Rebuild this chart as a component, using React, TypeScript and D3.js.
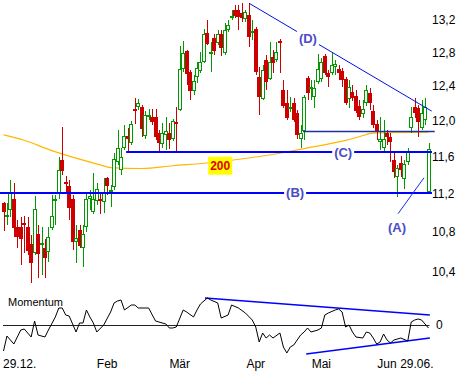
import React from 'react';
import * as d3 from 'd3';

// daily candles, 29.12. to 29.06.
const opens = [
  11.10, 10.96, 11.03, 11.14, 10.85, 10.85, 10.89, 10.85, 10.68, 10.59,
  10.78, 10.68, 10.64, 10.60, 10.84, 11.12, 11.21, 11.56, 11.32, 11.28,
  11.14, 10.70, 10.82, 10.64, 10.85, 11.14, 11.01, 11.12, 11.14, 11.11,
  11.37, 11.22, 11.27, 11.54, 11.45, 11.70, 11.83, 11.75, 12.13, 12.16,
  12.16, 11.83, 12.04, 12.04, 12.04, 11.86, 11.74, 11.84, 11.86, 11.79,
  11.99, 12.12, 12.60, 12.82, 12.57, 12.34, 12.51, 12.58, 12.69, 13.04,
  12.78, 12.98, 12.92, 13.03, 12.79, 13.08, 13.22, 13.33, 13.33, 13.29,
  13.21, 13.26, 13.04, 13.09, 12.51, 12.25, 12.71, 12.48, 12.75, 12.71,
  12.94, 12.35, 12.20, 12.15, 12.20, 12.09, 11.80, 11.88, 12.50, 12.38,
  12.27, 12.45, 12.48, 12.76, 12.55, 12.55, 12.63, 12.60, 12.58, 12.48,
  12.25, 12.33, 12.28, 12.17, 12.08, 12.20, 12.32, 12.11, 11.96, 11.76,
  11.70, 11.86, 11.82, 11.56, 11.38, 11.53, 11.36, 11.54, 11.92, 12.16,
  12.15, 11.92, 12.01, 11.22,
];
const highs = [
  11.11, 11.10, 11.35, 11.31, 10.92, 10.96, 10.97, 10.96, 10.77, 11.18,
  10.87, 10.85, 10.73, 10.85, 11.19, 11.19, 11.59, 11.93, 11.39, 11.35,
  11.19, 10.87, 10.87, 10.87, 11.21, 11.24, 11.42, 11.31, 11.21, 11.37,
  11.38, 11.29, 11.64, 11.90, 11.70, 11.95, 11.92, 12.00, 12.26, 12.25,
  12.18, 12.11, 12.13, 12.13, 12.13, 11.90, 11.97, 12.04, 11.97, 12.02,
  12.16, 12.88, 12.94, 12.83, 12.59, 12.53, 12.69, 12.81, 13.09, 13.20,
  12.93, 13.03, 13.08, 13.08, 13.16, 13.20, 13.33, 13.39, 13.39, 13.41,
  13.33, 13.41, 13.20, 13.11, 12.63, 12.65, 12.77, 12.93, 12.83, 12.93,
  12.97, 12.47, 12.35, 12.27, 12.26, 12.12, 11.95, 12.30, 12.52, 12.47,
  12.47, 12.78, 12.73, 12.78, 12.59, 12.81, 12.71, 12.65, 12.61, 12.51,
  12.47, 12.41, 12.35, 12.24, 12.24, 12.41, 12.38, 12.18, 12.01, 12.04,
  12.01, 11.90, 11.86, 11.64, 11.51, 11.61, 11.56, 11.69, 12.16, 12.26,
  12.18, 12.24, 12.26, 11.75,
];
const lows = [
  10.81, 10.87, 10.96, 10.75, 10.64, 10.47, 10.59, 10.57, 10.29, 10.57,
  10.34, 10.37, 10.34, 10.50, 10.82, 10.87, 11.14, 11.40, 11.21, 10.92,
  10.62, 10.49, 10.64, 10.45, 10.80, 11.03, 10.99, 11.08, 10.99, 11.00,
  11.19, 11.06, 11.24, 11.51, 11.40, 11.67, 11.64, 11.73, 11.96, 12.12,
  11.82, 11.80, 12.01, 11.95, 11.78, 11.65, 11.70, 11.67, 11.68, 11.77,
  11.64, 12.11, 12.57, 12.41, 12.24, 12.30, 12.44, 12.55, 12.67, 12.89,
  12.57, 12.77, 12.89, 12.76, 12.77, 13.05, 13.20, 13.22, 13.08, 13.18,
  13.18, 12.87, 12.95, 12.53, 12.07, 12.24, 12.35, 12.47, 12.55, 12.69,
  12.55, 12.15, 12.01, 12.10, 11.99, 11.80, 11.70, 11.78, 12.24, 12.24,
  12.15, 12.42, 12.45, 12.53, 12.39, 12.53, 12.53, 12.47, 12.39, 12.18,
  12.15, 12.23, 12.09, 12.01, 12.03, 12.17, 12.12, 11.92, 11.78, 11.67,
  11.65, 11.73, 11.54, 11.37, 11.17, 11.38, 11.25, 11.51, 11.86, 12.03,
  11.82, 11.90, 11.95, 11.21,
];
const closes = [
  11.01, 10.98, 11.21, 10.84, 10.75, 10.73, 10.87, 10.61, 10.49, 11.04,
  10.58, 10.69, 10.54, 10.75, 10.97, 11.14, 11.45, 11.44, 11.30, 11.05,
  10.70, 10.74, 10.66, 10.78, 11.14, 11.18, 11.14, 11.25, 11.12, 11.21,
  11.28, 11.24, 11.57, 11.69, 11.60, 11.83, 11.80, 11.96, 12.11, 12.20,
  11.91, 12.07, 12.07, 11.99, 11.82, 11.75, 11.86, 11.88, 11.78, 12.00,
  11.98, 12.60, 12.79, 12.54, 12.34, 12.46, 12.61, 12.69, 13.03, 12.90,
  12.81, 12.82, 13.03, 12.86, 13.08, 13.14, 13.25, 13.25, 13.24, 13.22,
  13.30, 12.99, 13.06, 12.57, 12.27, 12.59, 12.45, 12.69, 12.67, 12.81,
  12.92, 12.17, 12.03, 12.16, 12.01, 11.84, 11.86, 12.27, 12.32, 12.39,
  12.38, 12.60, 12.69, 12.55, 12.51, 12.65, 12.66, 12.55, 12.47, 12.20,
  12.39, 12.26, 12.11, 12.04, 12.13, 12.35, 12.20, 11.95, 11.87, 11.80,
  11.80, 11.82, 11.76, 11.43, 11.48, 11.45, 11.52, 11.65, 12.04, 12.09,
  11.99, 12.09, 12.16, 11.68,
];

// 200-day average, sampled at candle indices
const maIndex = [0, 6, 13, 16, 28, 31, 40, 49, 59, 66, 82, 86, 99, 103, 107, 123];
const maValues = [11.84, 11.78, 11.68, 11.64, 11.51, 11.48, 11.47, 11.50, 11.53, 11.56, 11.65, 11.68, 11.78, 11.82, 11.86, 11.87];

// momentum, sampled at candle indices
const momIndex = [
  0, 1, 3, 5, 6, 8, 9, 10, 12, 13, 15, 16, 17, 18, 19, 21, 22, 23, 24, 25,
  26, 27, 29, 31, 32, 33, 34, 35, 37, 38, 39, 41, 42, 44, 45, 47, 48, 49, 50, 52,
  53, 55, 56, 57, 59, 60, 62, 63, 65, 66, 68, 70, 72, 73, 74, 75, 76, 77, 78, 80,
  81, 82, 83, 84, 86, 87, 88, 89, 91, 92, 93, 94, 96, 97, 98, 99, 100, 101, 102, 104,
  105, 106, 107, 108, 109, 110, 111, 112, 113, 115, 117, 118, 119, 120, 121, 123,
];
const momValues = [
  -1.04, -0.44, -0.76, -0.2, -0.16, -0.48, 0.16, -0.4, -0.48, -0.2,
  0.32, 0.68, 0.68, 0.4, 0.36, -0.28, 0.08, 0.08, 0.6, 0.32,
  0.08, -0.28, 0, 0.52, 0.88, 0.96, 1.0, 0.6, 0.8, 0.8,
  0.68, 0.68, 0.68, 0.16, 0.12, 0.04, -0.12, -0.12, -0.08, 0.6,
  0.52, 0.32, 0.6, 0.84, 1.08, 1.0, 0.88, 0.28, 0.4, 0.8,
  0.68, 0.48, 0.2, -0.08, -0.68, -0.32, -0.52, -0.4, -0.52, -0.32,
  -0.88, -1.12, -0.88, -0.8, -0.4, -0.28, -0.12, -0.28, -0.2, -0.12,
  0.4, 0.48, 0.6, 0.64, 0.52, -0.08, 0, -0.28, -0.48, -0.52,
  -0.28, -0.32, -0.52, -0.76, -0.68, -0.36, -0.6, -0.72, -0.6, -0.52,
  -0.64, 0.12, 0.2, 0.24, 0.2, -0.12,
];

const priceTicks = [13.2, 12.8, 12.4, 12.0, 11.6, 11.2, 10.8, 10.4];
const tickLabels = ['29.12.', 'Feb', 'Mär', 'Apr', 'Mai', 'Jun', '29.06.'];
const tickIndex = [0, 30, 51, 73, 92, 111, 123];

// drawn lines: [index, price]
const levelB = 11.21;
const levelC = 11.65;
const levelTop = 11.88;
const trendD = [[71.1, 13.41], [123.9, 12.11]];
const trendA = [[114.2, 10.99], [121.7, 11.37]];
const momUpper = [[58.3, 1.08], [123.4, 0.4]];
const momLower = [[87.6, -1.16], [123.4, -0.52]];

const FONT = 'Liberation Sans, Arial, sans-serif';
const GREEN = '#009a00';
const RED = '#cc0000';
const BLUE = '#0000ff';
const LABEL = '#4b4bc6';

export default function App() {
  const width = 457;
  const height = 377;

  const x = d3.scaleLinear().domain([0, opens.length - 1]).range([3.5, 428.5]);
  const y = d3.scaleLog().domain([10.4, 13.2]).range([272, 20]);
  const ym = d3.scaleLinear().domain([-1.2, 1.2]).range([355, 295]);

  const fmt = (v: number) => v.toFixed(1).replace('.', ',');

  const maPath = d3
    .line<number>()
    .x((_, i) => x(maIndex[i]))
    .y((d) => y(d))
    .curve(d3.curveMonotoneX)(maValues);

  const momPath = d3
    .line<number>()
    .x((_, i) => x(momIndex[i]))
    .y((d) => ym(d))(momValues);

  const priceSeg = d3
    .line<number[]>()
    .x((d) => x(d[0]))
    .y((d) => y(d[1]));
  const momSeg = d3
    .line<number[]>()
    .x((d) => x(d[0]))
    .y((d) => ym(d[1]));

  const candles = opens.map((o, i) => {
    const c = closes[i];
    const up = c >= o;
    const color = up ? GREEN : RED;
    const cx = Math.round(x(i));
    const yt = Math.round(y(Math.max(o, c)));
    const yb = Math.round(y(Math.min(o, c)));
    const wick = (
      <line
        x1={cx + 0.5}
        x2={cx + 0.5}
        y1={Math.round(y(highs[i]))}
        y2={Math.round(y(lows[i]))}
        stroke={color}
        strokeWidth={1}
      />
    );
    let body;
    if (yb - yt < 2) {
      body = <rect x={cx - 2} y={yt} width={4} height={2} fill={color} />;
    } else if (up) {
      body = (
        <rect x={cx - 1.5} y={yt + 0.5} width={3} height={yb - yt - 1} fill="#fff" stroke={color} strokeWidth={1} />
      );
    } else {
      body = <rect x={cx - 2} y={yt} width={4} height={yb - yt} fill={color} />;
    }
    return (
      <g key={i}>
        {wick}
        {body}
      </g>
    );
  });

  const tag = (label: string, cx: number, cy: number, bg: boolean) => (
    <g>
      {bg && <rect x={cx - 11} y={cy - 8} width={22} height={16} fill="#fff" />}
      <text
        x={cx}
        y={cy}
        textAnchor="middle"
        dominantBaseline="central"
        fontFamily={FONT}
        fontSize={13}
        fontWeight="bold"
        fill={LABEL}
      >
        {label}
      </text>
    </g>
  );

  const lastX = x(124);

  return (
    <svg
      width={width}
      height={height}
      style={{ position: 'absolute', left: 0, top: 0, display: 'block', background: '#fff' }}
    >
      <rect width={width} height={height} fill="#fff" />

      {/* 200 day average */}
      <path d={maPath || ''} fill="none" stroke="#ffb800" strokeWidth={1.2} />
      <rect x={x(62.7) - 12} y={y(11.5) - 9} width={24} height={18} fill="#ffff00" />
      <text
        x={x(62.7)}
        y={y(11.5)}
        textAnchor="middle"
        dominantBaseline="central"
        fontFamily={FONT}
        fontSize={12}
        fontWeight="bold"
        fill="#e00000"
      >
        200
      </text>

      {candles}

      {/* support / resistance */}
      <line x1={x(86.7)} x2={x(124.8)} y1={Math.round(y(levelTop)) + 0.5} y2={Math.round(y(levelTop)) + 0.5} stroke="#2030a0" strokeWidth={1.3} />
      <line x1={x(35.5)} x2={lastX} y1={Math.round(y(levelC))} y2={Math.round(y(levelC))} stroke={BLUE} strokeWidth={2} />
      <line x1={0} x2={lastX} y1={Math.round(y(levelB))} y2={Math.round(y(levelB))} stroke={BLUE} strokeWidth={2} />
      <path d={priceSeg(trendD) || ''} fill="none" stroke="#0010e0" strokeWidth={1} />
      <path d={priceSeg(trendA) || ''} fill="none" stroke="#1030e0" strokeWidth={1} />

      {tag('(D)', x(88.1), y(12.97), true)}
      {tag('(C)', x(98.3), y(levelC), true)}
      {tag('(B)', x(84.4), y(levelB), true)}
      {tag('(A)', x(113.9), y(10.85), false)}

      {priceTicks.map((t) => (
        <text key={t} x={432} y={y(t)} dominantBaseline="central" fontFamily={FONT} fontSize={12} fill="#000">
          {fmt(t)}
        </text>
      ))}

      {/* momentum panel */}
      <text x={8} y={306} fontFamily={FONT} fontSize={11} fill="#000">
        Momentum
      </text>
      <line x1={x(0) - 0.5} x2={x(123) + 1} y1={Math.round(ym(0)) + 0.5} y2={Math.round(ym(0)) + 0.5} stroke="#222" strokeWidth={1} />
      <path d={momSeg(momUpper) || ''} fill="none" stroke={BLUE} strokeWidth={1.4} />
      <path d={momSeg(momLower) || ''} fill="none" stroke={BLUE} strokeWidth={1.4} />
      <path d={momPath || ''} fill="none" stroke="#000" strokeWidth={1} />
      <text x={436} y={ym(0)} dominantBaseline="central" fontFamily={FONT} fontSize={12} fill="#000">
        0
      </text>

      {tickLabels.map((t, i) => {
        const first = i === 0;
        const last = i === tickLabels.length - 1;
        return (
          <text
            key={t}
            x={first ? x(tickIndex[i]) - 0.5 : last ? x(tickIndex[i]) + 5 : x(tickIndex[i])}
            y={368}
            textAnchor={first ? 'start' : last ? 'end' : 'middle'}
            fontFamily={FONT}
            fontSize={12}
            fill="#000"
          >
            {t}
          </text>
        );
      })}
    </svg>
  );
}
